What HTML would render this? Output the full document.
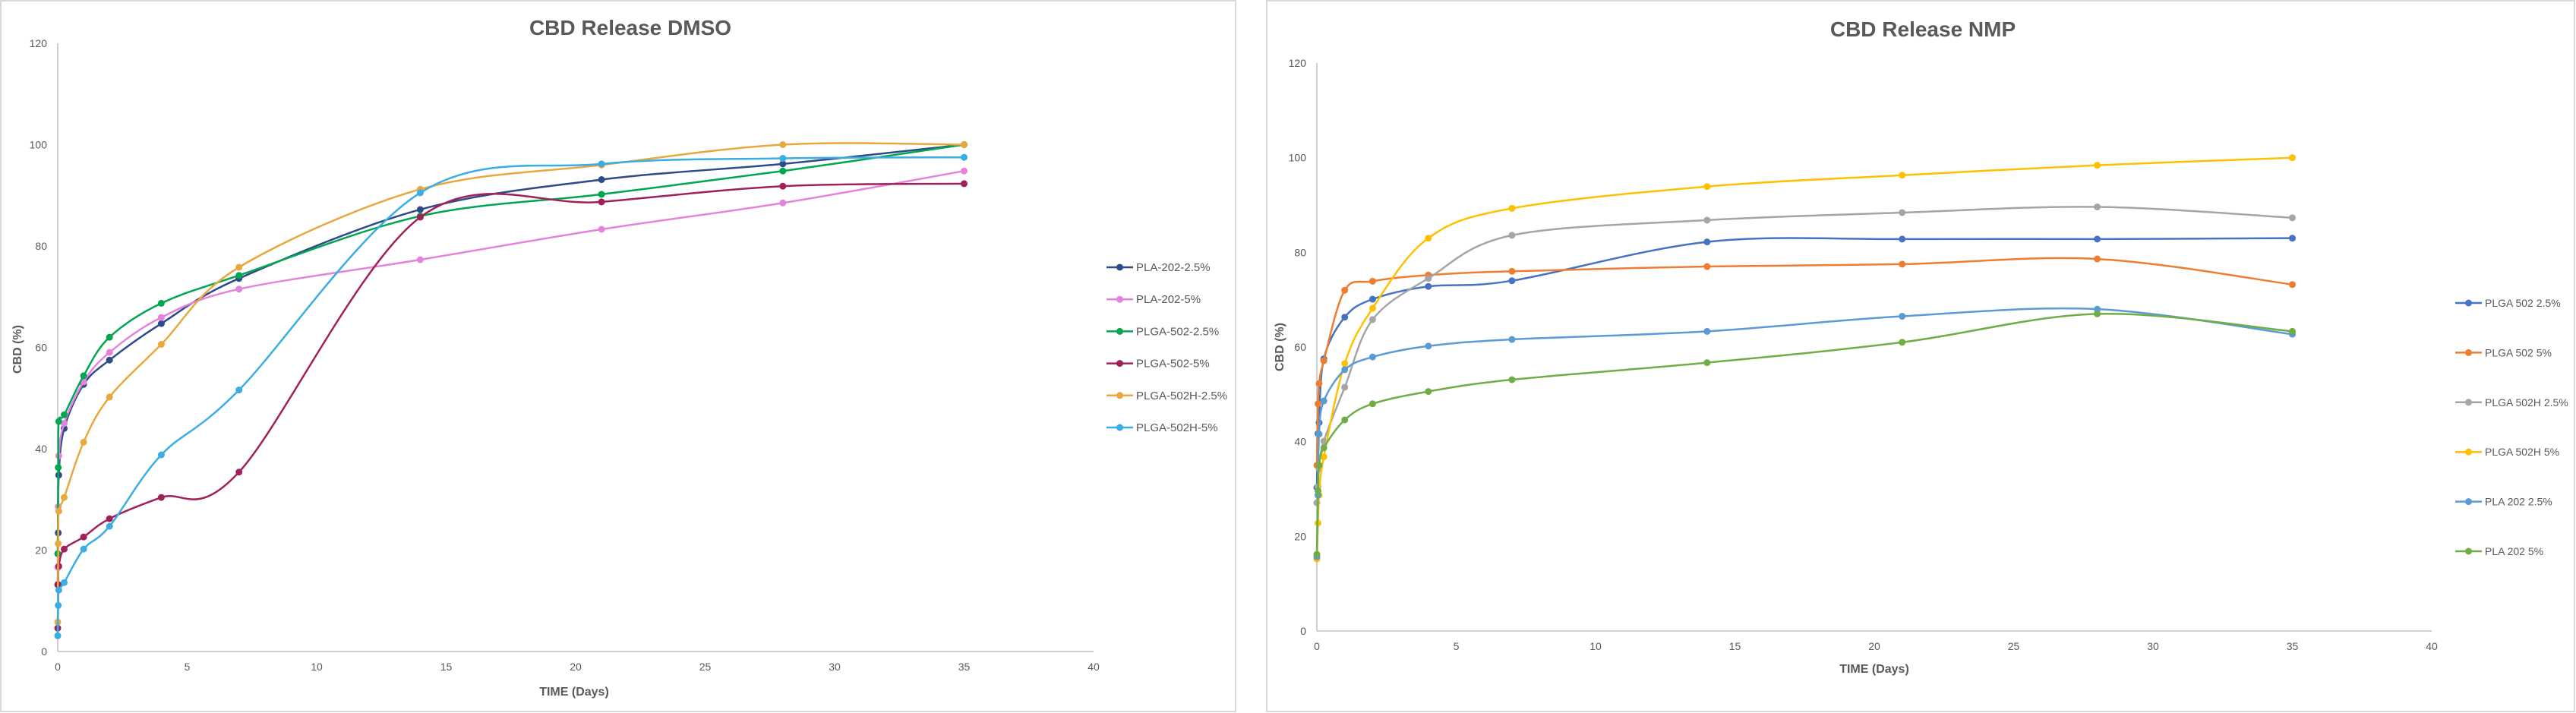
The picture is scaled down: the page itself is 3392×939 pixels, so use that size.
<!DOCTYPE html>
<html><head><meta charset="utf-8">
<style>
html,body{margin:0;padding:0;background:#fff;}
svg{display:block;font-family:"Liberation Sans",sans-serif;}
</style></head>
<body>
<svg id="svg" width="3392" height="939" viewBox="0 0 3392 939" xmlns="http://www.w3.org/2000/svg">
<rect x="1" y="1" width="1626" height="936" fill="#fff" stroke="#d9d9d9" stroke-width="2"/>
<rect x="1668" y="1" width="1722" height="936" fill="#fff" stroke="#d9d9d9" stroke-width="2"/>
<text x="830" y="46" text-anchor="middle" font-size="28" font-weight="bold" fill="#595959">CBD Release DMSO</text>
<text x="2532" y="48" text-anchor="middle" font-size="28" font-weight="bold" fill="#595959">CBD Release NMP</text>
<text x="756" y="916" text-anchor="middle" font-size="16" font-weight="bold" fill="#595959">TIME (Days)</text>
<text x="2468" y="886" text-anchor="middle" font-size="16" font-weight="bold" fill="#595959">TIME (Days)</text>
<text x="0" y="0" transform="translate(28,460) rotate(-90)" text-anchor="middle" font-size="16" font-weight="bold" fill="#595959">CBD (%)</text>
<text x="0" y="0" transform="translate(1690,457) rotate(-90)" text-anchor="middle" font-size="16" font-weight="bold" fill="#595959">CBD (%)</text>
<g id="c1"></g>
<g id="c2"></g>
</svg>
<script>
// DMSO chart data
const dmsoTimes = [0, 0.02, 0.04, 0.25, 1, 2, 4, 7, 14, 21, 28, 35];
const dmsoNames = ["PLA-202-2.5%", "PLA-202-5%", "PLGA-502-2.5%", "PLGA-502-5%", "PLGA-502H-2.5%", "PLGA-502H-5%"];
const dmsoPla2025 = [13.2, 23.4, 34.8, 44, 52.7, 57.5, 64.7, 73.6, 87.2, 93.1, 96.2, 100];
const dmsoPla205 = [16.6, 28.6, 38.6, 45, 53.2, 59, 65.9, 71.5, 77.3, 83.3, 88.5, 94.8];
const dmsoPlga50225 = [19.3, 36.3, 45.4, 46.7, 54.4, 62, 68.7, 74.2, 85.9, 90.2, 94.8, 100];
const dmsoPlga5025 = [4.6, 13.2, 16.8, 20.2, 22.6, 26.2, 30.4, 35.4, 85.7, 88.7, 91.8, 92.3];
const dmsoPlga502H25 = [5.8, 21.3, 27.7, 30.4, 41.3, 50.2, 60.6, 75.8, 91.2, 96, 100, 100];
const dmsoPlga502H5 = [3.1, 9.1, 12.1, 13.6, 20.2, 24.7, 38.8, 51.6, 90.5, 96.2, 97.3, 97.5];
// NMP chart data
const nmpTimes = [0, 0.04, 0.08, 0.25, 1, 2, 4, 7, 14, 21, 28, 35];
const nmpNames = ["PLGA 502 2.5%", "PLGA 502 5%", "PLGA 502H 2.5%", "PLGA 502H 5%", "PLA 202 2.5%", "PLA 202 5%"];
const nmpPlga50225 = [30.3, 41.7, 44, 57.5, 66.3, 70.1, 72.8, 74, 82.2, 82.8, 82.8, 83];
const nmpPlga5025 = [35, 48, 52.3, 57.1, 72, 73.9, 75.2, 76, 77, 77.5, 78.6, 73.2];
const nmpPlga502H25 = [27.1, 30.5, 34.3, 40.1, 51.5, 65.8, 74.5, 83.6, 86.8, 88.4, 89.6, 87.3];
const nmpPlga502H5 = [15.2, 22.8, 28.7, 36.8, 56.5, 68.2, 83, 89.3, 93.9, 96.3, 98.4, 100];
const nmpPla2025 = [15.7, 28.7, 41.6, 48.6, 55.2, 57.9, 60.2, 61.6, 63.3, 66.5, 68, 62.7];
const nmpPla205 = [16.2, 29.6, 35, 38.7, 44.6, 48, 50.6, 53.1, 56.7, 61, 67, 63.3];
const yTicks = [0, 20, 40, 60, 80, 100, 120];
const xTicks = [0, 5, 10, 15, 20, 25, 30, 35, 40];

const NS = "http://www.w3.org/2000/svg";
function mk(parent, tag, attrs){const e=document.createElementNS(NS,tag);for(const k in attrs)e.setAttribute(k,attrs[k]);parent.appendChild(e);return e;}
function spline(pts){
  let d="M"+pts[0][0].toFixed(1)+","+pts[0][1].toFixed(1);
  for(let i=0;i<pts.length-1;i++){
    const p0=pts[Math.max(0,i-1)],p1=pts[i],p2=pts[i+1],p3=pts[Math.min(pts.length-1,i+2)];
    const c1=[p1[0]+(p2[0]-p0[0])/6,p1[1]+(p2[1]-p0[1])/6];
    const c2=[p2[0]-(p3[0]-p1[0])/6,p2[1]-(p3[1]-p1[1])/6];
    d+=" C"+c1[0].toFixed(1)+","+c1[1].toFixed(1)+" "+c2[0].toFixed(1)+","+c2[1].toFixed(1)+" "+p2[0].toFixed(1)+","+p2[1].toFixed(1);
  }
  return d;
}
function chart(g, cfg){
  const sx=v=>cfg.x0+v*(cfg.x1-cfg.x0)/40;
  const sy=v=>cfg.y0-v*(cfg.y0-cfg.y1)/120;
  const ya=mk(g,"line",{x1:cfg.x0,y1:sy(120),x2:cfg.x0,y2:sy(0),stroke:"#bfbfbf","stroke-width":1.5});
  
  
  const xa=mk(g,"line",{x1:cfg.x0,y1:sy(0),x2:cfg.x1,y2:sy(0),stroke:"#bfbfbf","stroke-width":1.5});
  
  
  yTicks.forEach(t=>{
    const e=mk(g,"text",{x:cfg.x0-14,y:sy(t)+5,"text-anchor":"end","font-size":14,fill:"#595959"});
    e.textContent=t;
    
    
  });
  xTicks.forEach(t=>{
    const e=mk(g,"text",{x:sx(t),y:sy(0)+25,"text-anchor":"middle","font-size":14,fill:"#595959"});
    e.textContent=t;
    
    
  });
  cfg.series.forEach((s,i)=>{
    const sg=mk(g,"g",{});
    
    
    const pts=cfg.times.map((t,j)=>[sx(t),sy(s[j])]);
    const path=mk(sg,"path",{d:spline(pts),fill:"none",stroke:cfg.colors[i],"stroke-width":2.5});
    
    
    pts.forEach(p=>{
      const c=mk(sg,"circle",{cx:p[0],cy:p[1],r:4.5,fill:cfg.colors[i]});
      
      
    });
    const ly=cfg.ly0+i*cfg.ldy;
    const lg=mk(g,"g",{});
    
    
    mk(lg,"line",{x1:cfg.lx,y1:ly,x2:cfg.lx+35,y2:ly,stroke:cfg.colors[i],"stroke-width":2.5});
    mk(lg,"circle",{cx:cfg.lx+17.5,cy:ly,r:4.5,fill:cfg.colors[i]});
    const lt=mk(lg,"text",{x:cfg.lx+39,y:ly+5,"font-size":cfg.lfs,fill:"#595959"});
    lt.textContent=cfg.names[i];
  });
}
chart(document.getElementById("c1"),{p:"dmso",x0:76,x1:1440,y0:858,y1:57,times:dmsoTimes,names:dmsoNames,
  series:[dmsoPla2025,dmsoPla205,dmsoPlga50225,dmsoPlga5025,dmsoPlga502H25,dmsoPlga502H5],
  colors:["#2E4A8B","#E583DC","#00A650","#A0205A","#E8A83E","#3AADE5"],lx:1457,ly0:352,ldy:42.2,lfs:15});
chart(document.getElementById("c2"),{p:"nmp",x0:1734,x1:3202,y0:831,y1:83,times:nmpTimes,names:nmpNames,
  series:[nmpPlga50225,nmpPlga5025,nmpPlga502H25,nmpPlga502H5,nmpPla2025,nmpPla205],
  colors:["#4472C4","#ED7D31","#A5A5A5","#FFC000","#5B9BD5","#70AD47"],lx:3233,ly0:399,ldy:65.4,lfs:14});
</script>
</body></html>
